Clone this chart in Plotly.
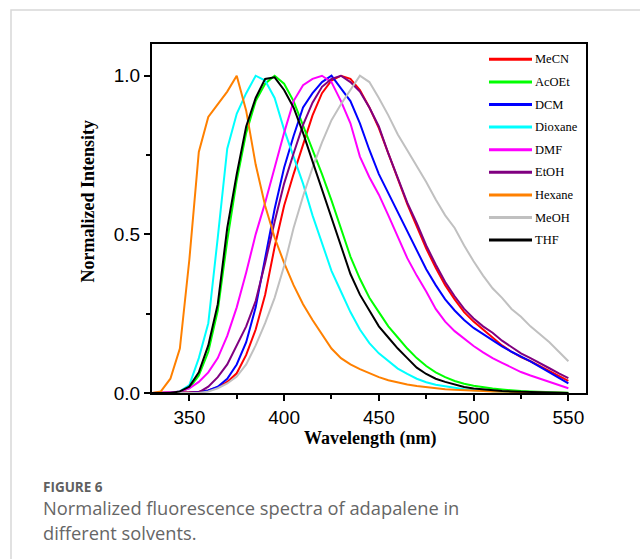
import plotly.graph_objects as go

# Emission wavelength grid (nm)
wavelength = [330, 335, 340, 345, 350, 355, 360, 365, 370, 375,
              380, 385, 390, 395, 400, 405, 410, 415, 420, 425,
              430, 435, 440, 445, 450, 455, 460, 465, 470, 475,
              480, 485, 490, 495, 500, 505, 510, 515, 520, 525,
              530, 535, 540, 545, 550]

# Normalized fluorescence intensity per solvent
mecn = [0, 0, 0, 0, 0.002, 0.004, 0.008, 0.018, 0.035, 0.062,
        0.12, 0.2, 0.31, 0.46, 0.59, 0.69, 0.785, 0.875, 0.945, 0.985,
        1.0, 0.99, 0.955, 0.9, 0.835, 0.755, 0.67, 0.595, 0.525, 0.455,
        0.395, 0.34, 0.295, 0.255, 0.225, 0.2, 0.175, 0.15, 0.13, 0.113,
        0.1, 0.085, 0.07, 0.054, 0.038]
acoet = [0, 0, 0.001, 0.004, 0.015, 0.055, 0.13, 0.26, 0.48, 0.67,
         0.82, 0.92, 0.975, 1.0, 0.975, 0.92, 0.845, 0.77, 0.69, 0.607,
         0.515, 0.43, 0.36, 0.3, 0.255, 0.21, 0.175, 0.14, 0.11, 0.085,
         0.065, 0.05, 0.038, 0.029, 0.023, 0.018, 0.014, 0.011, 0.008, 0.006,
         0.005, 0.004, 0.003, 0.002, 0.001]
dcm = [0, 0, 0, 0, 0.001, 0.003, 0.008, 0.02, 0.045, 0.09,
       0.16, 0.27, 0.42, 0.58, 0.71, 0.81, 0.9, 0.945, 0.98, 1.0,
       0.96, 0.92, 0.85, 0.766, 0.69, 0.63, 0.575, 0.515, 0.455, 0.39,
       0.34, 0.295, 0.26, 0.23, 0.205, 0.185, 0.165, 0.147, 0.13, 0.115,
       0.1, 0.082, 0.064, 0.046, 0.03]
dioxane = [0, 0, 0.001, 0.005, 0.025, 0.11, 0.22, 0.49, 0.77, 0.88,
           0.945, 1.0, 0.985, 0.93, 0.83, 0.745, 0.66, 0.56, 0.47, 0.385,
           0.32, 0.255, 0.2, 0.157, 0.125, 0.1, 0.077, 0.06, 0.045, 0.034,
           0.026, 0.021, 0.016, 0.012, 0.009, 0.007, 0.005, 0.004, 0.003, 0.002,
           0.002, 0.001, 0.001, 0, 0]
dmf = [0, 0, 0.002, 0.005, 0.015, 0.035, 0.065, 0.11, 0.18, 0.27,
       0.38, 0.5, 0.6, 0.71, 0.82, 0.92, 0.97, 0.99, 1.0, 0.98,
       0.92, 0.85, 0.745, 0.68, 0.625, 0.56, 0.49, 0.425, 0.37, 0.32,
       0.265, 0.225, 0.195, 0.17, 0.148, 0.128, 0.11, 0.095, 0.08, 0.066,
       0.055, 0.045, 0.035, 0.025, 0.015]
etoh = [0, 0, 0, 0, 0, 0.002, 0.02, 0.05, 0.09, 0.15,
        0.21, 0.29, 0.41, 0.54, 0.66, 0.755, 0.845, 0.915, 0.965, 0.99,
        1.0, 0.98, 0.95, 0.9, 0.84, 0.755, 0.68, 0.6, 0.535, 0.465,
        0.405, 0.35, 0.305, 0.265, 0.235, 0.21, 0.19, 0.165, 0.145, 0.125,
        0.11, 0.095, 0.078, 0.062, 0.047]
hexane = [0, 0.005, 0.045, 0.14, 0.42, 0.76, 0.87, 0.91, 0.95, 1.0,
          0.89, 0.72, 0.59, 0.49, 0.41, 0.34, 0.28, 0.23, 0.185, 0.14,
          0.11, 0.09, 0.075, 0.062, 0.05, 0.04, 0.033, 0.027, 0.022, 0.018,
          0.015, 0.012, 0.01, 0.008, 0.007, 0.006, 0.005, 0.004, 0.003, 0.003,
          0.002, 0.002, 0.001, 0.001, 0]
meoh = [0, 0, 0, 0, 0, 0, 0.005, 0.015, 0.03, 0.052,
        0.09, 0.15, 0.22, 0.3, 0.4, 0.52, 0.62, 0.71, 0.79, 0.86,
        0.91, 0.955, 1.0, 0.98, 0.93, 0.875, 0.815, 0.765, 0.715, 0.665,
        0.61, 0.56, 0.52, 0.465, 0.415, 0.37, 0.33, 0.3, 0.265, 0.24,
        0.21, 0.185, 0.16, 0.13, 0.1]
thf = [0, 0, 0, 0.005, 0.02, 0.065, 0.15, 0.28, 0.52, 0.69,
       0.84, 0.93, 0.99, 0.995, 0.955, 0.9, 0.82, 0.73, 0.64, 0.55,
       0.46, 0.375, 0.31, 0.26, 0.21, 0.175, 0.14, 0.11, 0.08, 0.06,
       0.045, 0.035, 0.026, 0.019, 0.014, 0.011, 0.008, 0.006, 0.005, 0.004,
       0.003, 0.002, 0.001, 0.001, 0]

solvents = ["MeCN", "AcOEt", "DCM", "Dioxane", "DMF", "EtOH", "Hexane", "MeOH", "THF"]
spectra = [mecn, acoet, dcm, dioxane, dmf, etoh, hexane, meoh, thf]
colors = ["#FF0000", "#00FF00", "#0000FF", "#00FFFF", "#FF00FF",
          "#800080", "#FF8000", "#C0C0C0", "#000000"]

W, H = 640, 559
ML, MR, MT, MB = 152, 54, 44, 166
PW, PH = W - ML - MR, H - MT - MB


def fx(x):
    """Pixel column -> paper x."""
    return (x - ML) / PW


def fy(y):
    """Pixel row -> paper y."""
    return (H - MB - y) / PH


serif = "Liberation Serif, Times New Roman, serif"
sans = "Liberation Sans, Arial, sans-serif"

fig = go.Figure()
for name, ys, col in zip(solvents, spectra, colors):
    fig.add_trace(go.Scatter(x=wavelength, y=ys, mode="lines", name=name,
                             line=dict(color=col, width=2), showlegend=False))

shapes = []
annotations = []

# legend drawn inside the frame, top right
leg_y0, leg_dy = 59.3, 22.6
for i, (name, col) in enumerate(zip(solvents, colors)):
    yy = fy(leg_y0 + i * leg_dy)
    shapes.append(dict(type="line", xref="paper", yref="paper",
                       x0=fx(489), x1=fx(532), y0=yy, y1=yy,
                       line=dict(color=col, width=3)))
    annotations.append(dict(text=name, xref="paper", yref="paper",
                            x=fx(533), y=yy, xanchor="left", yanchor="middle",
                            showarrow=False,
                            font=dict(family=serif, size=12.5, color="black")))

# axis titles
annotations.append(dict(text="<b>Wavelength (nm)</b>", xref="paper", yref="paper",
                        x=fx(370), y=fy(438), xanchor="center", yanchor="middle",
                        showarrow=False, font=dict(family=serif, size=18, color="black")))
annotations.append(dict(text="<b>Normalized Intensity</b>", xref="paper", yref="paper",
                        x=fx(87), y=fy(201.5), xanchor="center", yanchor="middle",
                        textangle=-90, showarrow=False,
                        font=dict(family=serif, size=18, color="black")))

# caption
cap_font = "Open Sans, Lato, sans-serif"
annotations.append(dict(text="<b>FIGURE 6</b>", xref="paper", yref="paper",
                        x=fx(41), y=fy(487), xanchor="left", yanchor="middle",
                        showarrow=False, font=dict(family=cap_font, size=13.5, color="#606060")))
annotations.append(dict(text="Normalized fluorescence spectra of adapalene in",
                        xref="paper", yref="paper", x=fx(41), y=fy(507),
                        xanchor="left", yanchor="middle", showarrow=False,
                        font=dict(family=cap_font, size=18.3, color="#666666")))
annotations.append(dict(text="different solvents.",
                        xref="paper", yref="paper", x=fx(41), y=fy(532),
                        xanchor="left", yanchor="middle", showarrow=False,
                        font=dict(family=cap_font, size=18.3, color="#666666")))

# card outline (top and left edges visible)
shapes.append(dict(type="rect", xref="paper", yref="paper",
                   x0=fx(11), x1=fx(660), y0=fy(10), y1=fy(580),
                   line=dict(color="#d8d8d8", width=1.5), layer="below"))

axis_common = dict(showline=True, linewidth=2, linecolor="black", mirror=True,
                   ticks="outside", ticklen=6, tickwidth=1.5, tickcolor="black",
                   showgrid=False, zeroline=False,
                   tickfont=dict(family=sans, size=19, color="black"))

fig.update_layout(
    width=W, height=H,
    margin=dict(l=ML, r=MR, t=MT, b=MB, pad=0),
    paper_bgcolor="white", plot_bgcolor="white",
    xaxis=dict(range=[330.3, 559.3], tick0=350, dtick=50,
               minor=dict(dtick=25, tick0=325, ticks="outside", ticklen=4,
                          tickwidth=1.5, tickcolor="black"),
               **axis_common),
    yaxis=dict(range=[0, 1.1], tick0=0, dtick=0.5, tickformat=".1f",
               minor=dict(dtick=0.25, tick0=0, ticks="outside", ticklen=4,
                          tickwidth=1.5, tickcolor="black"),
               **axis_common),
    shapes=shapes,
    annotations=annotations,
)

fig.write_html("out.html")
